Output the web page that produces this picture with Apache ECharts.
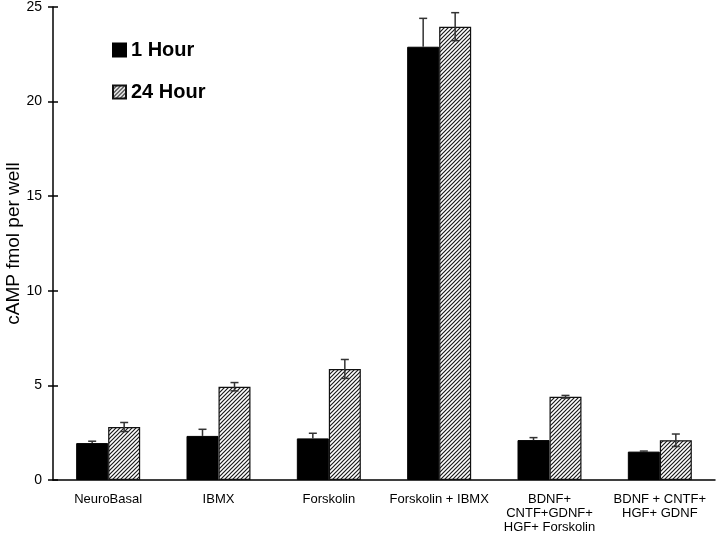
<!DOCTYPE html>
<html>
<head>
<meta charset="utf-8">
<script src="https://cdn.jsdelivr.net/npm/echarts@6/dist/echarts.min.js"></script>
<style>
  html, body { margin: 0; padding: 0; background: #fff; }
  #chart { width: 720px; height: 540px; }
</style>
</head>
<body>
<div id="chart"></div>
<script>
// data
let categories = ['NeuroBasal', 'IBMX', 'Forskolin', 'Forskolin + IBMX',
    'BDNF+\nCNTF+GDNF+\nHGF+ Forskolin', 'BDNF + CNTF+\nHGF+ GDNF'];
let oneHour = [1.95, 2.33, 2.2, 22.9, 2.11, 1.5];
let oneHourErr = [0.1, 0.35, 0.27, 1.5, 0.13, 0.03];
let dayLater = [2.8, 4.93, 5.87, 23.96, 4.4, 2.1];
let dayLaterErr = [0.24, 0.22, 0.5, 0.74, 0.07, 0.33];
let yTicks = [0, 5, 10, 15, 20, 25];

let FONT = 'Liberation Sans';
let BAR_FRAC = 0.29;

// hatch pattern for the 24 hour bars
function makeHatch() {
    let c = document.createElement('canvas');
    c.width = 4; c.height = 4;
    let ctx = c.getContext('2d');
    ctx.fillStyle = '#fff';
    ctx.fillRect(0, 0, 4, 4);
    ctx.strokeStyle = '#1a1a1a';
    ctx.lineWidth = 1.2;
    ctx.beginPath();
    ctx.moveTo(-1, 5); ctx.lineTo(5, -1);
    ctx.moveTo(-1, 1); ctx.lineTo(1, -1);
    ctx.moveTo(3, 5); ctx.lineTo(5, 3);
    ctx.stroke();
    return c;
}
let hatch = {image: makeHatch(), repeat: 'repeat'};

function errorBars(values, errs, side, both) {
    return {
        type: 'custom',
        xAxisIndex: 0,
        yAxisIndex: 0,
        silent: true,
        z: 5,
        data: values.map(function (v, i) { return [i, v, errs[i]]; }),
        renderItem: function (params, api) {
            let i = api.value(0), v = api.value(1), e = api.value(2);
            let band = api.size([1, 0])[0];
            let cx = api.coord([i, v])[0] + side * band * BAR_FRAC / 2;
            let top = api.coord([i, v + e])[1];
            let bot = both ? api.coord([i, v - e])[1] : api.coord([i, v])[1];
            let cap = 4;
            let style = {stroke: '#333', lineWidth: 1.5, fill: null};
            let kids = [
                {type: 'line', shape: {x1: cx, y1: top, x2: cx, y2: bot}, style: style},
                {type: 'line', shape: {x1: cx - cap, y1: top, x2: cx + cap, y2: top}, style: style}
            ];
            if (both) {
                kids.push({type: 'line', shape: {x1: cx - cap, y1: bot, x2: cx + cap, y2: bot}, style: style});
            }
            return {type: 'group', children: kids};
        }
    };
}

let chart = echarts.init(document.getElementById('chart'));
chart.setOption({
    animation: false,
    backgroundColor: '#fff',
    textStyle: {fontFamily: FONT},
    grid: {left: 53, right: 5, top: 7, bottom: 60, outerBoundsMode: 'none', containLabel: false},
    legend: {
        orient: 'vertical',
        left: 112,
        top: 40,
        padding: 0,
        itemWidth: 13,
        itemHeight: 13,
        itemGap: 22,
        icon: 'rect',
        data: ['1 Hour', '24 Hour'],
        textStyle: {fontFamily: FONT, fontSize: 20, fontWeight: 'bold', color: '#000', padding: [0, 0, 0, 0]}
    },
    xAxis: [{
        type: 'category',
        data: categories,
        axisLine: {lineStyle: {color: '#000', width: 1.5}},
        axisTick: {length: 5, lineStyle: {color: '#000', width: 1.5}},
        axisLabel: {color: '#000', fontSize: 13, margin: 12, lineHeight: 14, interval: 0}
    }, {
        type: 'category',
        data: categories,
        position: 'bottom',
        axisLine: {show: false},
        axisTick: {inside: true, length: 5, lineStyle: {color: '#000', width: 1.5}},
        axisLabel: {show: false}
    }],
    yAxis: [{
        type: 'value',
        min: 0,
        max: 25,
        interval: 5,
        name: 'cAMP fmol per well',
        nameLocation: 'middle',
        nameGap: 30,
        nameMoveOverlap: false,
        nameTextStyle: {fontSize: 19, color: '#000', fontFamily: FONT},
        axisLine: {show: true, lineStyle: {color: '#000', width: 1.5}},
        axisTick: {show: true, length: 5, lineStyle: {color: '#000', width: 1.5}},
        axisLabel: {color: '#000', fontSize: 14, margin: 11,
            formatter: function (v) { return yTicks.indexOf(v) >= 0 ? String(v) : ''; }},
        splitLine: {show: false}
    }, {
        type: 'value',
        min: 0,
        max: 25,
        interval: 5,
        position: 'left',
        axisLine: {show: false},
        axisTick: {show: true, inside: true, length: 5, lineStyle: {color: '#000', width: 1.5}},
        axisLabel: {show: false},
        splitLine: {show: false}
    }],
    series: [{
        name: '1 Hour',
        type: 'bar',
        data: oneHour,
        barWidth: (BAR_FRAC * 100) + '%',
        barGap: '0%',
        itemStyle: {color: '#000', borderColor: '#000', borderWidth: 1}
    }, {
        name: '24 Hour',
        type: 'bar',
        data: dayLater,
        barWidth: (BAR_FRAC * 100) + '%',
        barGap: '0%',
        itemStyle: {color: hatch, borderColor: '#111', borderWidth: 1.2}
    },
        errorBars(oneHour, oneHourErr, -1, false),
        errorBars(dayLater, dayLaterErr, 1, true)
    ]
});
</script>
</body>
</html>
